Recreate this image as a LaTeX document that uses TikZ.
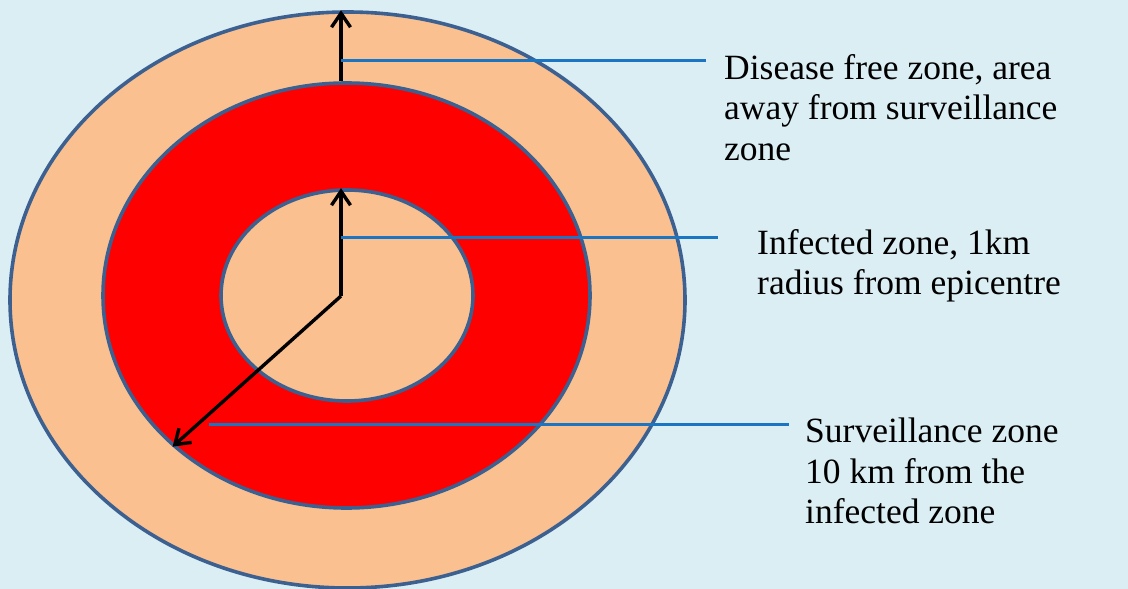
\documentclass[tikz,border=0pt]{standalone}
\usepackage{fontspec}
\setmainfont{Liberation Serif}
\usepackage{xcolor}
\usepackage{tikz}
\usetikzlibrary{arrows.meta,positioning,shapes.geometric,calc}

\definecolor{bgblue}{HTML}{DBEEF4}
\definecolor{peach}{HTML}{FAC090}
\definecolor{ringline}{HTML}{3C6090}
\definecolor{leadblue}{HTML}{1A75C2}

\begin{document}
\begin{tikzpicture}[x=1pt, y=-1pt,
		zone/.style={ellipse, draw=ringline, line width=3.6pt, inner sep=0pt},
		label/.style={anchor=north west, inner sep=0pt, align=left,
				font=\fontsize{35.5}{40.5}\selectfont},
		radius/.style={-{Straight Barb[length=14pt, width=19pt]}, line width=3.4pt},
		lead/.style={draw=leadblue, line width=3pt}]

		% ── background ──
		\fill[bgblue] (0,0) rectangle (1128,589);
		\useasboundingbox (0,0) rectangle (1128,589);

		% ── zones ──
		\node[zone, fill=peach, minimum width=675pt, minimum height=576pt] (outer) at (347.5,300) {};
		\node[zone, fill=red, minimum width=487pt, minimum height=425pt] (middle) at (346.5,295.5) {};
		\node[zone, fill=peach, minimum width=252pt, minimum height=211pt] (inner) at (347,295.5) {};

		% ── epicentre ──
		\coordinate (ctr) at (341,296);

		% ── radii ──
		\draw[radius] (ctr) -- (ctr |- inner.north);
		\draw[radius] (ctr |- middle.north) -- (ctr |- outer.north);
		\draw[radius] (ctr) -- (middle.221);

		% ── labels ──
		\node[label] (free) at (724,54) {Disease free zone, area\\away from surveillance\\zone};
		\node[label] (infected) at (757,229) {Infected zone, 1km\\radius from epicentre};
		\node[label] (surv) at (805,418) {Surveillance zone\\10 km from the\\infected zone};

		% ── leader lines ──
		\coordinate (a1) at (341,60);
		\coordinate (b1) at (706,60);
		\coordinate (a2) at (341,237);
		\coordinate (b2) at (718,237);
		\coordinate (a3) at (209,424.5);
		\coordinate (b3) at (789,424.5);
		\draw[lead] (a1) -- (b1);
		\draw[lead] (a2) -- (b2);
		\draw[lead] (a3) -- (b3);

	\end{tikzpicture}
\end{document}
